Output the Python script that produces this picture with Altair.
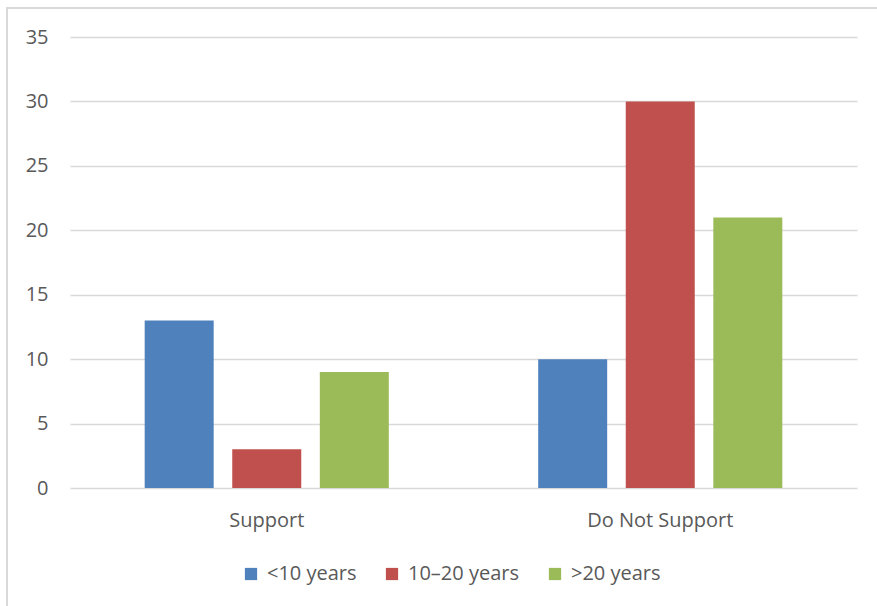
import altair as alt
import pandas as pd

categories = ["Support", "Do Not Support"]
groups = ["<10 years", "10–20 years", ">20 years"]
support_vals = [13, 3, 9]
not_support_vals = [10, 30, 21]
colors = ["#4F81BD", "#C0504D", "#9BBB59"]
y_ticks = [0, 5, 10, 15, 20, 25, 30, 35]

rows = []
for g, v in zip(groups, support_vals):
    rows.append({"category": categories[0], "group": g, "value": v})
for g, v in zip(groups, not_support_vals):
    rows.append({"category": categories[1], "group": g, "value": v})
df = pd.DataFrame(rows)

FONT = "Open Sans"
TXT = "#595959"

bars = alt.Chart(df).mark_bar(size=69).encode(
    x=alt.X("category:N", sort=categories, title=None,
            scale=alt.Scale(paddingInner=0, paddingOuter=0),
            axis=alt.Axis(labelAngle=0, domain=False, ticks=False, grid=False,
                          labelPadding=22, labelFontSize=20, labelColor=TXT,
                          labelFont=FONT)),
    xOffset=alt.XOffset("group:N", sort=groups,
                        scale=alt.Scale(paddingInner=0.206, paddingOuter=0.85)),
    y=alt.Y("value:Q", title=None,
            scale=alt.Scale(domain=[0, 35], nice=False),
            axis=alt.Axis(values=y_ticks, domain=False, ticks=False,
                          gridColor="#d9d9d9", gridWidth=1.5,
                          labelPadding=22, labelFontSize=20, labelColor=TXT,
                          labelFont=FONT)),
    color=alt.Color("group:N", sort=groups,
                    scale=alt.Scale(domain=groups, range=colors),
                    legend=alt.Legend(title=None, orient="none", direction="horizontal",
                                      legendX=171, legendY=527,
                                      symbolType="square", symbolSize=150,
                                      symbolStrokeWidth=0,
                                      labelFontSize=20, labelColor=TXT, labelFont=FONT,
                                      labelOffset=6, columnPadding=25)),
)

frame = alt.Chart(alt.Data(values=[{}])).mark_rect(
    fill=None, stroke="#d9d9d9", strokeWidth=2
).encode(
    x=alt.value(-63), y=alt.value(-29), x2=alt.value(840), y2=alt.value(600)
)

chart = alt.layer(frame, bars).properties(
    width=787, height=451,
    background="white",
    autosize=alt.AutoSizeParams(type="none"),
    padding={"left": 70, "top": 37, "right": 20, "bottom": 118},
).configure_view(stroke="transparent", strokeWidth=0)

chart.save("out.html", embed_options={"renderer": "svg", "actions": False})
